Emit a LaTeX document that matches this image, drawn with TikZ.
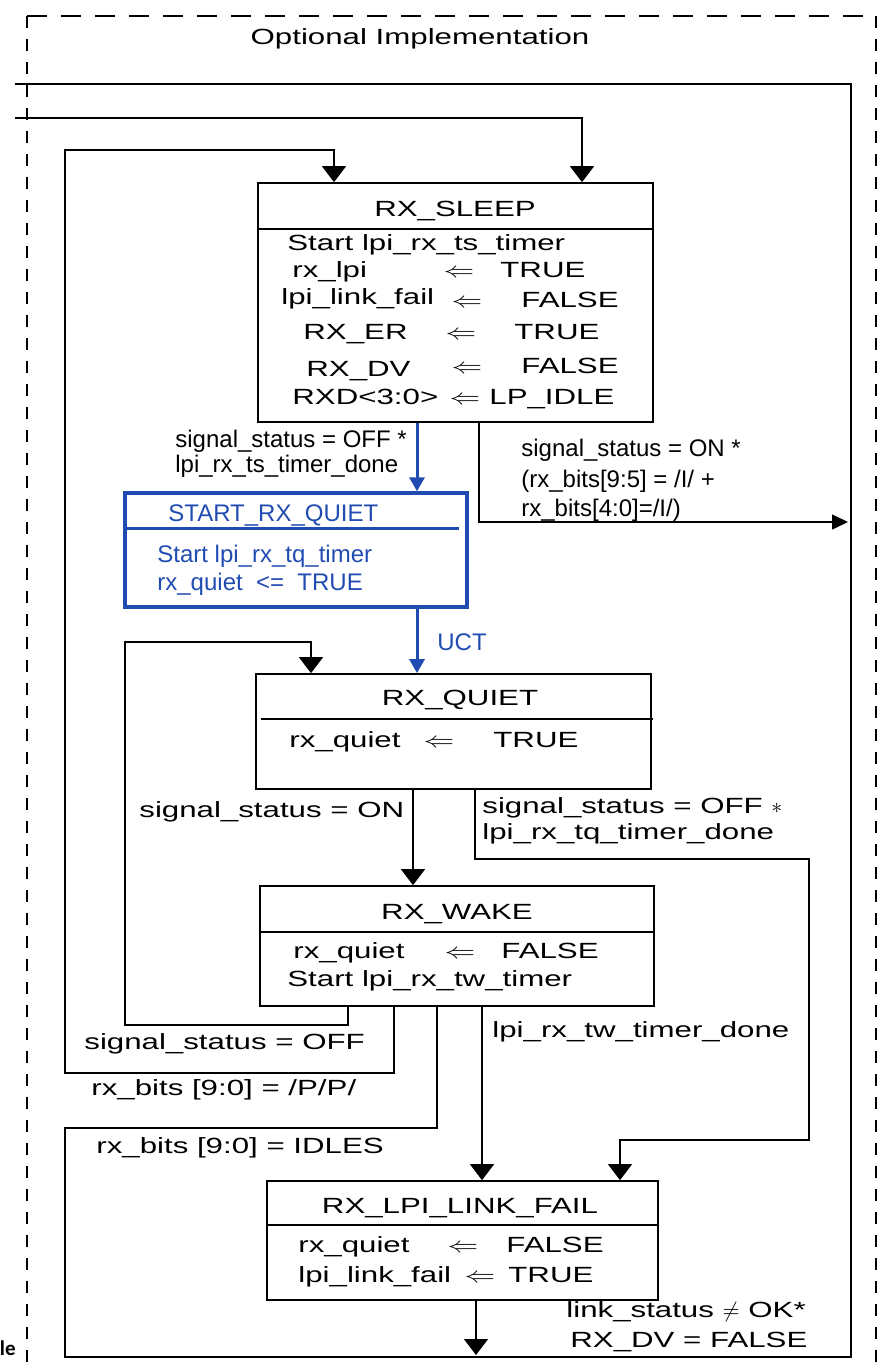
\documentclass[tikz,border=0pt]{standalone}
\usepackage{fontspec}
\setmainfont{Liberation Sans}
\newfontfamily\widefont{Liberation Sans}[FakeStretch=1.42]
\newfontfamily\cutfont{Carlito}
\usepackage{graphicx}
\usepackage{tikz}
\usetikzlibrary{arrows.meta}
\usepackage{xcolor}
\definecolor{QuietBlue}{RGB}{32, 76, 178}
\newcommand{\getsarrow}{\scalebox{1.4}[1.0]{$\Leftarrow$}}
\tikzset{%
  state_block/.style={%
    rectangle,%
    draw=black,%
    line width=0.85pt,%
    inner sep=0pt,%
  },
  start_block/.style={%
    rectangle,%
    draw=QuietBlue,%
    line width=1.7pt,%
    inner sep=0pt,%
  },
  box_line/.style={%
    line width=0.85pt,%
  },
  signal_path/.style={%
    color=black,%
    line width=0.75pt,%
  },
  blue_path/.style={%
    color=QuietBlue,%
    line width=1.5pt,%
  },
  frame_v/.style={%
    line width=1pt,%
    dash pattern=on 6pt off 5.5pt,%
  },
  frame_h/.style={%
    line width=1pt,%
    dash pattern=on 10pt off 7pt,%
  },
  wide_text/.style={%
    font={\widefont\fontsize{11pt}{13pt}\selectfont},%
    anchor=base west,%
    inner sep=0pt,%
  },
  plain_text/.style={%
    font={\fontsize{12pt}{14pt}\selectfont},%
    anchor=base west,%
    inner sep=0pt,%
  },
  blue_text/.style={%
    plain_text,%
    text=QuietBlue,%
  },
  arrow/.style={-{Triangle[length=8pt, width=12pt]}},
  thin_arrow/.style={-{Triangle[length=8pt, width=7.5pt]}},
  blue_arrow/.style={-{Triangle[length=7pt, width=7.5pt]}},
}
\begin{document}
\begin{tikzpicture}[x=0.5pt, y=-0.5pt]
    \useasboundingbox (0,0) rectangle (881,1371);

    % dashed frame
    \draw [frame_h] (27,16) -- (876,16);
    \draw [frame_v] (27,16) -- (27,1390);
    \draw [frame_v] (876,16) -- (876,1390);
    \node [wide_text, anchor=base] (frame_title) at (420,44) {Optional Implementation};
    \node [font={\cutfont\bfseries\fontsize{10.5pt}{12pt}\selectfont}, anchor=base east, inner sep=0pt]
      (cut_label) at (16,1355) {le};

    % states
    \node [state_block, minimum width=197.5pt, minimum height=119.5pt] (Sleep) at (455.5,302.5) {};
    \node [start_block, minimum width=171pt, minimum height=57pt] (StartQuiet) at (296,550) {};
    \node [state_block, minimum width=197.5pt, minimum height=57.5pt] (Quiet) at (453.5,731.5) {};
    \node [state_block, minimum width=197pt, minimum height=60pt] (Wake) at (457,946) {};
    \node [state_block, minimum width=195.5pt, minimum height=59.5pt] (LinkFail) at (462.5,1240.5) {};

    \draw [box_line] (Sleep.north west) ++(0,47) -- ++(395,0);
    \draw [box_line, color=QuietBlue, line width=1.6pt] (StartQuiet.north west) ++(0,37) -- ++(336,0);
    \draw [box_line] (Quiet.north west) ++(6,46) -- ++(392,0);
    \draw [box_line] (Wake.north west) ++(0,47) -- ++(394,0);
    \draw [box_line] (LinkFail.north west) ++(0,45) -- ++(391,0);

    % RX_SLEEP
    \node [wide_text, anchor=base] (sleep_title) at (455,216) {RX\_SLEEP};
    \node [wide_text] (sleep_l1) at (287,250) {Start lpi\_rx\_ts\_timer};
    \node [wide_text] (sleep_l2) at (292,277) {rx\_lpi};
    \node [wide_text, anchor=base] (sleep_a2) at (459,277) {\getsarrow};
    \node [wide_text] (sleep_r2) at (500,277) {TRUE};
    \node [wide_text] (sleep_l3) at (281,304) {lpi\_link\_fail};
    \node [wide_text, anchor=base] (sleep_a3) at (467,307) {\getsarrow};
    \node [wide_text] (sleep_r3) at (521,307) {FALSE};
    \node [wide_text] (sleep_l4) at (303,339) {RX\_ER};
    \node [wide_text, anchor=base] (sleep_a4) at (461,339) {\getsarrow};
    \node [wide_text] (sleep_r4) at (514,339) {TRUE};
    \node [wide_text] (sleep_l5) at (306,376) {RX\_DV};
    \node [wide_text, anchor=base] (sleep_a5) at (467,373) {\getsarrow};
    \node [wide_text] (sleep_r5) at (521,373) {FALSE};
    \node [wide_text] (sleep_l6) at (292,404) {RXD<3:0>};
    \node [wide_text, anchor=base] (sleep_a6) at (465,404) {\getsarrow};
    \node [wide_text] (sleep_r6) at (489,404) {LP\_IDLE};

    % START_RX_QUIET
    \node [blue_text] (start_title) at (168,521) {START\_RX\_QUIET};
    \node [blue_text] (start_l1) at (157,562) {Start lpi\_rx\_tq\_timer};
    \node [blue_text] (start_l2) at (157,590) {rx\_quiet\ \ <=\ \ TRUE};

    % RX_QUIET
    \node [wide_text, anchor=base] (quiet_title) at (460,705) {RX\_QUIET};
    \node [wide_text] (quiet_l1) at (289,747) {rx\_quiet};
    \node [wide_text, anchor=base] (quiet_a1) at (439,747) {\getsarrow};
    \node [wide_text] (quiet_r1) at (493,747) {TRUE};

    % RX_WAKE
    \node [wide_text, anchor=base] (wake_title) at (457,919) {RX\_WAKE};
    \node [wide_text] (wake_l1) at (293,958) {rx\_quiet};
    \node [wide_text, anchor=base] (wake_a1) at (460,958) {\getsarrow};
    \node [wide_text] (wake_r1) at (501,958) {FALSE};
    \node [wide_text] (wake_l2) at (287,986) {Start lpi\_rx\_tw\_timer};

    % RX_LPI_LINK_FAIL
    \node [wide_text, anchor=base] (fail_title) at (460,1213) {RX\_LPI\_LINK\_FAIL};
    \node [wide_text] (fail_l1) at (298,1252) {rx\_quiet};
    \node [wide_text, anchor=base] (fail_a1) at (463,1252) {\getsarrow};
    \node [wide_text] (fail_r1) at (506,1252) {FALSE};
    \node [wide_text] (fail_l2) at (298,1282) {lpi\_link\_fail};
    \node [wide_text, anchor=base] (fail_a2) at (480,1282) {\getsarrow};
    \node [wide_text] (fail_r2) at (508,1282) {TRUE};

    % lanes and bends
    \coordinate (exit_outer) at (15,84);
    \coordinate (exit_inner) at (15,118);
    \coordinate (sleep_in_right) at (582,0);
    \coordinate (sleep_in_left) at (334,150);
    \coordinate (lane_left) at (65,0);
    \coordinate (lane_loop) at (125,0);
    \coordinate (quiet_in_left) at (311,642);
    \coordinate (bus_right) at (851,0);
    \coordinate (bus_bottom) at (0,1357);
    \coordinate (sleep_to_start) at (417,0);
    \coordinate (sleep_on) at (479,522);
    \coordinate (bus_on) at (848,522);
    \coordinate (quiet_on) at (413,0);
    \coordinate (quiet_off) at (475,859);
    \coordinate (fail_bend) at (809,1140);
    \coordinate (fail_in_right) at (620,0);
    \coordinate (wake_off) at (348,1025);
    \coordinate (wake_pp) at (394,1073);
    \coordinate (wake_idle) at (437,1128);
    \coordinate (wake_done) at (482,0);
    \coordinate (fail_out) at (476,1355);

    % transitions
    \draw [signal_path]
      (Wake.south -| wake_idle)
      --
      (wake_idle)
      -|
      (lane_left |- bus_bottom)
      -|
      (bus_right |- exit_outer)
      --
      (exit_outer);
    \draw [arrow, signal_path]
      (exit_inner)
      -|
      (Sleep.north -| sleep_in_right);
    \draw [arrow, signal_path]
      (Wake.south -| wake_pp)
      --
      (wake_pp)
      -|
      (lane_left |- sleep_in_left)
      -|
      (Sleep.north -| sleep_in_left);
    \draw [arrow, signal_path]
      (Wake.south -| wake_off)
      --
      (wake_off)
      -|
      (lane_loop |- quiet_in_left)
      -|
      (Quiet.north -| quiet_in_left);
    \draw [blue_arrow, blue_path]
      (Sleep.south -| sleep_to_start)
      --
      (StartQuiet.north -| sleep_to_start);
    \draw [blue_arrow, blue_path]
      (StartQuiet.south -| sleep_to_start)
      --
      (Quiet.north -| sleep_to_start);
    \draw [thin_arrow, signal_path]
      (Sleep.south -| sleep_on)
      --
      (sleep_on)
      --
      (bus_on);
    \draw [arrow, signal_path]
      (Quiet.south -| quiet_on)
      --
      (Wake.north -| quiet_on);
    \draw [arrow, signal_path]
      (Quiet.south -| quiet_off)
      --
      (quiet_off)
      -|
      (fail_bend)
      -|
      (LinkFail.north -| fail_in_right);
    \draw [arrow, signal_path]
      (Wake.south -| wake_done)
      --
      (LinkFail.north -| wake_done);
    \draw [arrow, signal_path]
      (LinkFail.south -| fail_out)
      --
      (fail_out);

    % transition labels
    \node [plain_text] (sleep_off_1) at (175,447) {signal\_status = OFF *};
    \node [plain_text] (sleep_off_2) at (175,472) {lpi\_rx\_ts\_timer\_done};
    \node [plain_text] (sleep_on_1) at (521,456) {signal\_status = ON *};
    \node [plain_text] (sleep_on_2) at (521,487) {(rx\_bits[9:5] = /I/ +};
    \node [plain_text] (sleep_on_3) at (521,516) {rx\_bits[4:0]=/I/)};
    \node [blue_text] (uct) at (437,650) {UCT};
    \node [wide_text] (quiet_on_1) at (139,817) {signal\_status = ON};
    \node [wide_text] (quiet_off_1) at (482,813) {signal\_status = OFF $\ast$};
    \node [wide_text] (quiet_off_2) at (482,839) {lpi\_rx\_tq\_timer\_done};
    \node [wide_text] (wake_off_1) at (84,1049) {signal\_status = OFF};
    \node [wide_text] (wake_pp_1) at (91,1095) {rx\_bits [9:0] = /P/P/};
    \node [wide_text] (wake_done_1) at (492,1037) {lpi\_rx\_tw\_timer\_done};
    \node [wide_text] (wake_idle_1) at (96,1153) {rx\_bits [9:0] = IDLES};
    \node [wide_text] (fail_out_1) at (566,1317) {link\_status $\neq$ OK*};
    \node [wide_text] (fail_out_2) at (570,1347) {RX\_DV = FALSE};
\end{tikzpicture}
\end{document}
